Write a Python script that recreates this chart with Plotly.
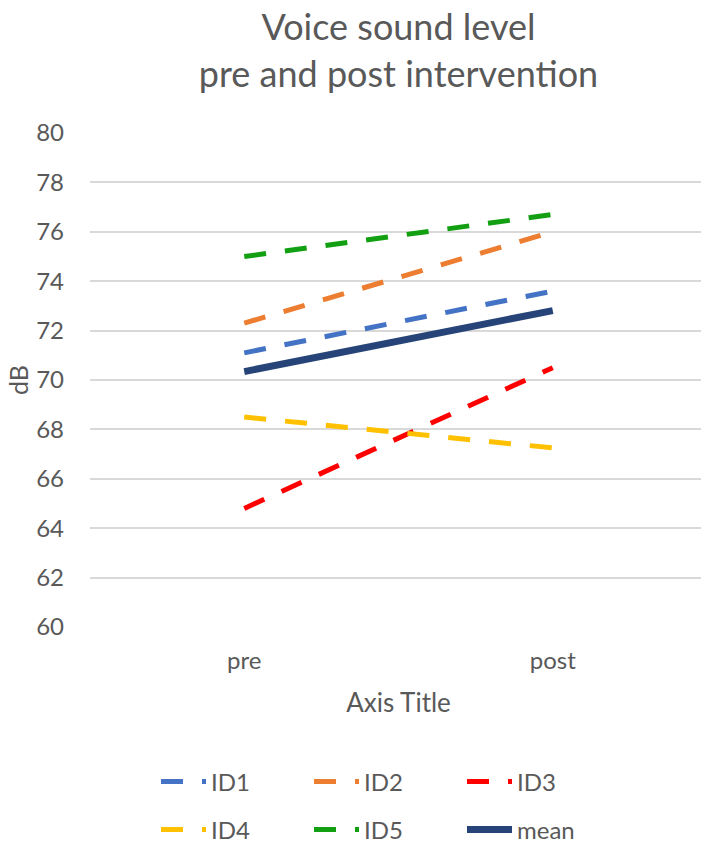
import plotly.graph_objects as go

categories = ["pre", "post"]
id1 = [71.1, 73.6]
id2 = [72.3, 76.0]
id3 = [64.8, 70.5]
id4 = [68.5, 67.25]
id5 = [75.0, 76.7]
mean = [70.34, 72.81]
y_ticks = [60, 62, 64, 66, 68, 70, 72, 74, 76, 78, 80]

FONT = "Lato"
GREY = "#595959"

# The HTML page body has an 8px default margin; size the figure so that
# it fits the 709x846 window exactly.
PAD = 8
W, H = 709 - PAD, 846 - PAD
L, R = 90 - PAD, 2
PLOT_W = W - L - R

series = [
    ("ID1", id1, "#4472C4", 5, "22px,19px", "legend"),
    ("ID2", id2, "#ED7D31", 5, "22px,19px", "legend"),
    ("ID3", id3, "#FF0000", 5, "22px,19px", "legend"),
    ("ID4", id4, "#FFC000", 5, "22px,19px", "legend2"),
    ("ID5", id5, "#12A012", 5, "22px,19px", "legend2"),
    ("mean", mean, "#264478", 7, "solid", "legend2"),
]

fig = go.Figure()
for name, vals, color, w, dash, lg in series:
    fig.add_trace(go.Scatter(
        x=categories, y=vals, mode="lines", name=name,
        line=dict(color=color, width=w, dash=dash),
        legend=lg,
    ))

legend_common = dict(
    orientation="h", xanchor="left", yanchor="middle",
    xref="container", yref="container",
    font=dict(family=FONT, size=24, color=GREY),
    entrywidth=93, entrywidthmode="pixels",
    bgcolor="rgba(0,0,0,0)", itemwidth=45,
)

fig.update_layout(
    width=W, height=H,
    margin=dict(l=L, r=R, t=133 - PAD, b=846 - 627, autoexpand=False),
    paper_bgcolor="white", plot_bgcolor="white",
    font=dict(family=FONT, color=GREY),
    title=dict(
        text="Voice sound level<br>pre and post intervention",
        x=0.5, xanchor="center", xref="paper",
        y=1 - 32 / H, yanchor="middle",
        font=dict(family=FONT, size=36, color=GREY),
    ),
    xaxis=dict(
        type="category", range=[-0.5, 1.5], automargin=False,
        showgrid=False, zeroline=False, showline=False,
        tickfont=dict(family=FONT, size=24, color=GREY),
        ticks="", ticklabelstandoff=17,
        title=dict(text="Axis Title", font=dict(family=FONT, size=26, color=GREY), standoff=20),
    ),
    yaxis=dict(
        range=[60, 80], tickvals=y_ticks, automargin=False,
        showgrid=True, gridcolor="#D9D9D9", gridwidth=1.5,
        zeroline=False, showline=False,
        tickfont=dict(family=FONT, size=24, color=GREY),
        ticks="", ticklabelstandoff=25,
    ),
    annotations=[dict(
        text="dB", textangle=-90, showarrow=False,
        xref="paper", yref="paper",
        x=(18 - PAD - L) / PLOT_W, y=0.5,
        xanchor="center", yanchor="middle",
        font=dict(family=FONT, size=25, color=GREY),
    )],
    legend=dict(x=148 / W, y=1 - (782 - PAD) / H, **legend_common),
    legend2=dict(x=148 / W, y=1 - (830 - PAD) / H, **legend_common),
)

fig.write_html("out.html")
